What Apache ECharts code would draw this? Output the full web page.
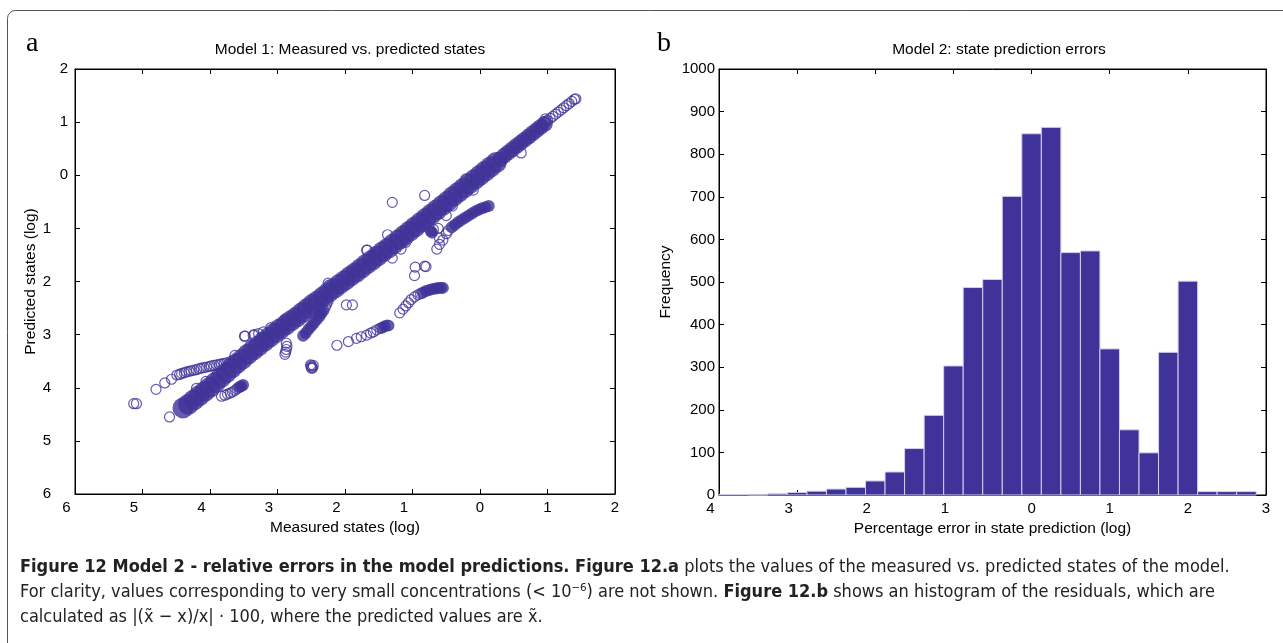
<!DOCTYPE html>
<html>
<head>
<meta charset="utf-8">
<script src="https://cdn.jsdelivr.net/npm/echarts@6/dist/echarts.min.js"></script>
<style>
  html, body { margin: 0; padding: 0; background: #fff; }
  #fig { width: 1283px; height: 643px; }
</style>
</head>
<body>
<div id="fig"></div>
<script>
// ---- panel a: measured vs predicted (log) ----
// main diagonal band (dense, drawn solid)
var bandWide = [
  [-4.40,-4.38],[-4.32,-4.31],[-4.24,-4.23],[-4.16,-4.15],[-4.08,-4.07],[-4.00,-3.99],
  [-3.92,-3.90],[-3.84,-3.81],[-3.76,-3.72],[-3.68,-3.63],[-3.60,-3.54],[-3.52,-3.46],
  [-3.44,-3.37],[-3.36,-3.29],[-3.28,-3.21],[-3.20,-3.13],[-3.12,-3.05],[-3.04,-2.97],
  [-2.96,-2.89],[-2.88,-2.82],[-2.80,-2.74],[-2.72,-2.67],[-2.64,-2.59],[-2.56,-2.51],
  [-2.48,-2.43],[-2.40,-2.36],[-2.32,-2.28],[-2.24,-2.20],[-2.16,-2.13],[-2.08,-2.05],
  [-2.00,-1.98],[-1.92,-1.90],[-1.84,-1.83],[-1.76,-1.75],[-1.68,-1.67],[-1.60,-1.60],
  [-1.52,-1.52],[-1.44,-1.44],[-1.36,-1.37],[-1.28,-1.29],[-1.20,-1.21],[-1.12,-1.13],
  [-1.04,-1.05],[-0.96,-0.97],[-0.88,-0.89],[-0.80,-0.81],[-0.72,-0.73],[-0.64,-0.65],
  [-0.56,-0.57],[-0.48,-0.49],[-0.40,-0.40],[-0.32,-0.32],[-0.24,-0.24],[-0.16,-0.16],
  [-0.08,-0.08],[0.00,0.00],[0.08,0.08],[0.16,0.16],[0.24,0.24]
];
var bandNarrow = [
  [0.30,0.30],[0.36,0.37],[0.42,0.43],[0.48,0.49],[0.54,0.55],[0.60,0.61],[0.66,0.67],
  [0.72,0.73],[0.78,0.79],[0.84,0.85],[0.90,0.91],[0.96,0.97]
];
// smaller solid clumps
var denseBlobs = [
  [-3.57,-3.99],[-3.54,-3.97],[-3.51,-3.95],
  [-2.62,-3.02],[-2.58,-2.97],[-2.54,-2.90],[-2.50,-2.84],[-2.46,-2.78],[-2.42,-2.72],
  [-2.38,-2.66],[-2.35,-2.60],[-2.32,-2.54],
  [-0.85,-2.21],[-0.80,-2.18],[-0.75,-2.16],[-0.70,-2.14],[-0.65,-2.13],
  [-0.62,-2.12],[-0.58,-2.12],[-0.55,-2.12],
  [-1.45,-2.87],[-1.41,-2.84],[-1.37,-2.83],
  [-0.73,-1.05],[-0.71,-1.08],
  [-0.42,-0.98],[-0.37,-0.93],[-0.32,-0.88],[-0.27,-0.84],
  [-0.22,-0.80],[-0.17,-0.76],[-0.12,-0.72],[-0.07,-0.68],[-0.02,-0.65],[0.03,-0.62],
  [0.08,-0.60],[0.13,-0.58]
];
// individual open circles
var openPts = [
  // band tip
  [0.92,0.95],[0.96,0.99],[1.00,1.03],[1.04,1.07],[1.08,1.11],[1.12,1.15],[1.16,1.19],
  [1.20,1.23],[1.24,1.27],[1.28,1.31],[1.32,1.35],[1.36,1.39],[1.40,1.43],[1.42,1.44],
  // lower-left outliers and upper arm
  [-5.13,-4.30],[-5.09,-4.30],[-4.60,-4.55],
  [-4.80,-4.03],[-4.67,-3.91],[-4.57,-3.84],[-4.49,-3.76],[-4.45,-3.75],[-4.42,-3.73],
  [-4.38,-3.72],[-4.35,-3.70],[-4.31,-3.69],[-4.28,-3.68],[-4.24,-3.67],[-4.20,-3.66],
  [-4.16,-3.64],[-4.13,-3.63],[-4.09,-3.62],[-4.05,-3.61],[-4.01,-3.60],[-3.98,-3.59],
  [-3.94,-3.58],[-3.90,-3.57],[-3.86,-3.56],[-3.83,-3.55],[-3.79,-3.54],[-3.75,-3.53],
  [-3.70,-3.51],[-3.65,-3.49],[-3.60,-3.48],
  // lower short arc
  [-3.83,-4.16],[-3.78,-4.14],[-3.74,-4.12],[-3.70,-4.10],[-3.67,-4.08],[-3.63,-4.05],
  [-3.60,-4.02],
  [-4.20,-4.01],[-4.06,-3.88],[-3.63,-3.39],[-3.48,-3.03],[-3.36,-3.01],[-3.28,-2.98],
  [-3.21,-2.95],[-3.10,-2.87],[-2.89,-2.71],
  // vertical cluster and blob
  [-2.87,-3.16],[-2.86,-3.22],[-2.87,-3.28],[-2.88,-3.33],[-2.89,-3.37],
  [-2.51,-3.57],[-2.50,-3.59],[-2.49,-3.61],[-2.48,-3.63],[-2.47,-3.58],[-2.50,-3.63],
  [-2.29,-2.48],[-2.27,-2.42],[-2.25,-2.37],[-2.24,-2.07],[-2.25,-2.03],
  // arc towards (-1.4,-2.8)
  [-2.12,-3.20],[-1.95,-3.13],[-1.83,-3.07],[-1.76,-3.04],[-1.68,-3.01],[-1.62,-2.97],
  [-1.58,-2.95],[-1.53,-2.91],[-1.48,-2.88],[-1.35,-2.83],
  [-1.98,-2.44],[-1.89,-2.44],
  // arc towards (-0.55,-2.12)
  [-1.19,-2.59],[-1.14,-2.52],[-1.10,-2.46],[-1.06,-2.40],[-1.02,-2.34],[-0.97,-2.29],
  [-0.92,-2.25],[-0.88,-2.23],
  [-0.97,-1.89],[-0.96,-1.73],[-0.82,-1.71],[-0.80,-1.72],
  // outliers around the band
  [-1.68,-1.41],[-1.67,-1.41],[-1.37,-1.12],[-1.30,-1.56],[-1.17,-1.39],[-1.10,-1.26],
  [-1.30,-0.51],[-0.82,-0.38],[-0.50,-0.76],[-0.41,-0.58],[-0.21,-0.07],[-0.10,-0.28],
  [0.61,0.42],[0.97,1.06],[-3.34,-3.00],[-3.49,-3.03],
  // upper secondary arc, open part
  [-0.64,-1.39],[-0.60,-1.30],[-0.55,-1.22],[-0.60,-1.18],[-0.50,-1.10],[-0.47,-1.04],
  [-0.69,-1.02],[-0.62,-1.00]
];

// ---- panel b: histogram of prediction errors (log) ----
var binCenters = [-4.0,-3.75,-3.5,-3.25,-3.0,-2.75,-2.5,-2.25,-2.0,-1.75,-1.5,-1.25,-1.0,
  -0.75,-0.5,-0.25,0.0,0.25,0.5,0.75,1.0,1.25,1.5,1.75,2.0,2.25,2.5,2.75];
var binCounts = [1,1,0,3,6,9,14,18,33,54,109,187,303,487,506,701,848,863,569,573,343,153,
  99,335,502,8,8,8];
var binWidth = 0.25;

var ink = '#3f3399';
var font = '"Liberation Sans", Arial, sans-serif';
var capFont = '"DejaVu Sans Condensed", "Liberation Sans Narrow", sans-serif';

function tickLabel(v) {
  // minus signs are lost in the original figure, leaving a blank gap
  if (v < 0) return '{n|' + (-v) + '}{p| }';
  return '{n|' + v + '}';
}
var labelRich = { n: { fontSize: 15, fontFamily: font, color: '#000' }, p: { width: 17 } };

function axisBase(extra) {
  var a = {
    type: 'value',
    axisLine: { onZero: false, lineStyle: { color: '#000', width: 1 } },
    axisTick: { inside: true, length: 5, lineStyle: { color: '#000' } },
    splitLine: { show: false },
    axisLabel: { show: false },
    nameTextStyle: { fontFamily: font, fontSize: 15.5, color: '#000' }
  };
  for (var k in extra) a[k] = extra[k];
  return a;
}

var chart = echarts.init(document.getElementById('fig'));
chart.setOption({
  animation: false,
  backgroundColor: '#fff',
  title: [
    { text: 'Model 1: Measured vs. predicted states', left: 345, top: 37, textAlign: 'center',
      textStyle: { fontFamily: font, fontSize: 15.5, fontWeight: 'normal', color: '#000' } },
    { text: 'Model 2: state prediction errors', left: 994, top: 37, textAlign: 'center',
      textStyle: { fontFamily: font, fontSize: 15.5, fontWeight: 'normal', color: '#000' } }
  ],
  grid: [
    { left: 75, top: 69, width: 540, height: 425, show: true, borderColor: '#000', borderWidth: 1 },
    { left: 719, top: 69, width: 547, height: 426, show: true, borderColor: '#000', borderWidth: 1 }
  ],
  xAxis: [
    axisBase({ gridIndex: 0, min: -6, max: 2, interval: 1,
      axisLabel: { show: true, margin: 6, formatter: tickLabel, rich: labelRich, showMinLabel: true, showMaxLabel: true },
      name: 'Measured states (log)', nameLocation: 'middle', nameGap: 21 }),
    axisBase({ gridIndex: 0, position: 'top', min: -6, max: 2, interval: 1 }),
    axisBase({ gridIndex: 1, min: -4, max: 3, interval: 1,
      axisLabel: { show: true, margin: 6, formatter: tickLabel, rich: labelRich, showMinLabel: true, showMaxLabel: true },
      name: 'Percentage error in state prediction (log)', nameLocation: 'middle', nameGap: 20 }),
    axisBase({ gridIndex: 1, position: 'top', min: -4, max: 3, interval: 1 })
  ],
  yAxis: [
    axisBase({ gridIndex: 0, min: -6, max: 2, interval: 1,
      axisLabel: { show: true, margin: 7, formatter: tickLabel, rich: labelRich, showMinLabel: true, showMaxLabel: true },
      name: 'Predicted states (log)', nameLocation: 'middle', nameGap: 34 }),
    axisBase({ gridIndex: 0, position: 'right', min: -6, max: 2, interval: 1 }),
    axisBase({ gridIndex: 1, min: 0, max: 1000, interval: 100,
      axisLabel: { show: true, margin: 4, fontFamily: font, fontSize: 15, color: '#000',
        formatter: function (v) { return String(v); }, showMinLabel: true, showMaxLabel: true },
      name: 'Frequency', nameLocation: 'middle', nameGap: 45 }),
    axisBase({ gridIndex: 1, position: 'right', min: 0, max: 1000, interval: 100 })
  ],
  series: [
    { type: 'scatter', xAxisIndex: 0, yAxisIndex: 0, data: bandWide, symbol: 'circle', symbolSize: 21,
      itemStyle: { color: ink }, silent: true },
    { type: 'scatter', xAxisIndex: 0, yAxisIndex: 0, data: bandNarrow, symbol: 'circle', symbolSize: 16,
      itemStyle: { color: ink }, silent: true },
    { type: 'scatter', xAxisIndex: 0, yAxisIndex: 0, data: denseBlobs, symbol: 'circle', symbolSize: 12,
      itemStyle: { color: ink }, silent: true },
    { type: 'scatter', xAxisIndex: 0, yAxisIndex: 0, data: openPts, symbol: 'circle', symbolSize: 10,
      itemStyle: { color: 'rgba(0,0,0,0)', borderColor: ink, borderWidth: 1.2 }, silent: true },
    {
      type: 'custom', xAxisIndex: 2, yAxisIndex: 2, silent: true,
      data: binCenters.map(function (c, i) { return [c, binCounts[i]]; }),
      renderItem: function (params, api) {
        var c = api.value(0), v = api.value(1);
        var lo = Math.max(c - binWidth / 2, -4), hi = c + binWidth / 2;
        var p0 = api.coord([lo, v]), p1 = api.coord([hi, 0]);
        return {
          type: 'rect',
          shape: { x: p0[0], y: p0[1], width: p1[0] - p0[0], height: p1[1] - p0[1] },
          style: { fill: ink, stroke: '#d3cfee', lineWidth: 1 }
        };
      }
    }
  ],
  graphic: [
    { type: 'rect', shape: { x: 7.5, y: 10.5, width: 1300, height: 700, r: 8 },
      style: { fill: 'none', stroke: '#555', lineWidth: 1 }, silent: true },
    { type: 'text', x: 26, y: 30, style: { text: 'a', font: '28px "Liberation Serif", serif', fill: '#000' } },
    { type: 'text', x: 657, y: 30, style: { text: 'b', font: '28px "Liberation Serif", serif', fill: '#000' } },
    { type: 'text', x: 20, y: 567, style: {
        text: '{b|Figure 12 Model 2 - relative errors in the model predictions. Figure 12.a} plots the values of the measured vs. predicted states of the model.',
        verticalAlign: 'middle', fontFamily: capFont, fontSize: 18, fill: '#222',
        rich: { b: { fontWeight: 'bold', fontFamily: capFont, fontSize: 18, color: '#222' } } } },
    { type: 'text', x: 20, y: 592, style: {
        text: 'For clarity, values corresponding to very small concentrations (< 10\u207B\u2076) are not shown. {b|Figure 12.b} shows an histogram of the residuals, which are',
        verticalAlign: 'middle', fontFamily: capFont, fontSize: 18, fill: '#222',
        rich: { b: { fontWeight: 'bold', fontFamily: capFont, fontSize: 18, color: '#222' } } } },
    { type: 'text', x: 20, y: 617, style: {
        text: 'calculated as |(x\u0303 \u2212 x)/x| \u00B7 100, where the predicted values are x\u0303.',
        verticalAlign: 'middle', fontFamily: capFont, fontSize: 18, fill: '#222' } }
  ]
});
</script>
</body>
</html>
